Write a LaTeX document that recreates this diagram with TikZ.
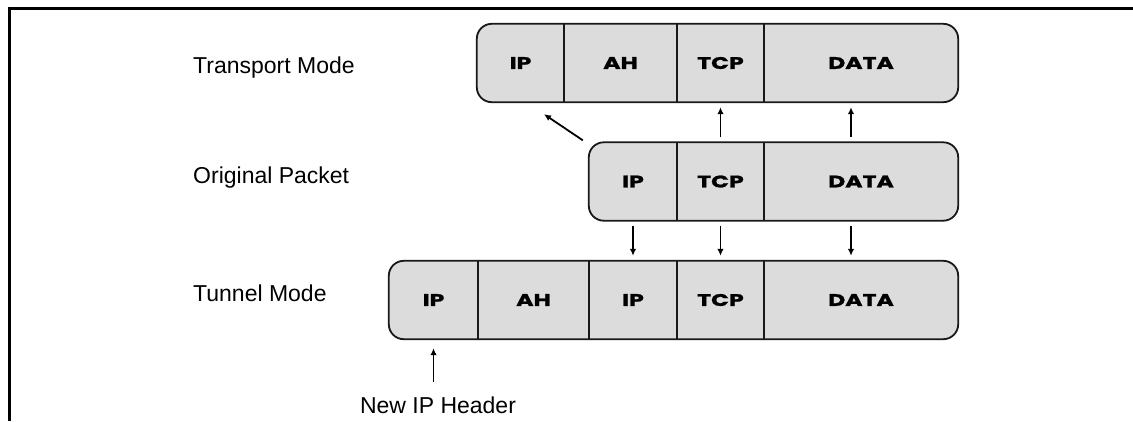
\documentclass[tikz,border=0pt]{standalone}
\usepackage{fontspec}
\setmainfont{Liberation Sans}
\newfontfamily\cellfont{Poppins}[FakeStretch=1.4,FakeBold=1.3]
\usetikzlibrary{arrows.meta,backgrounds}
\definecolor{cellgray}{RGB}{220,220,220}
\tikzset{
 cell/.style={inner sep=0pt, minimum height=78pt, font=\cellfont\bfseries\fontsize{16.8}{19}\selectfont, text=black},
 pkt/.style={draw=black!90, line width=1.8pt, fill=cellgray, rounded corners=15pt},
 divider/.style={draw=black!90, line width=1.8pt},
 arr/.style={line width=1.8pt, -{Latex[length=7pt,width=6.5pt]}, shorten <=5pt, shorten >=5pt},
 lbl/.style={font=\fontsize{23}{27}\selectfont, inner sep=0pt, anchor=base west},
 frame/.style={line width=3pt, draw=black},
}
\begin{document}
\begin{tikzpicture}[x=1pt,y=-1pt]
\useasboundingbox (0,0) rectangle (1133,421);
% frame
\coordinate (fa) at (9.3,421);
\coordinate (fb) at (9.3,8.5);
\coordinate (fc) at (1133,8.5);
\draw[frame] (fa) -- (fb) -- (fc);
% labels
\node[lbl] (lt) at (193,73) {Transport Mode};
\node[lbl] (lo) at (193,183) {Original Packet};
\node[lbl] (ln) at (193,301) {Tunnel Mode};
% transport mode packet
\node[cell, minimum width=87pt]  (tIP)   at (520.5,63) {IP};
\node[cell, minimum width=113pt] (tAH)   at (620.5,63) {AH};
\node[cell, minimum width=87pt]  (tTCP)  at (720.5,63) {TCP};
\node[cell, minimum width=194pt] (tDATA) at (861,63) {DATA};
% original packet
\node[cell, minimum width=88pt]  (oIP)   at (633,181.5) {IP};
\node[cell, minimum width=87pt]  (oTCP)  at (720.5,181.5) {TCP};
\node[cell, minimum width=194pt] (oDATA) at (861,181.5) {DATA};
% tunnel mode packet
\node[cell, minimum width=89pt]  (nIP)   at (433.5,300) {IP};
\node[cell, minimum width=111pt] (nAH)   at (533.5,300) {AH};
\node[cell, minimum width=88pt]  (nIP2)  at (633,300) {IP};
\node[cell, minimum width=87pt]  (nTCP)  at (720.5,300) {TCP};
\node[cell, minimum width=194pt] (nDATA) at (861,300) {DATA};
\begin{scope}[on background layer]
\path[pkt] (tIP.north west) rectangle (tDATA.south east);
\path[pkt] (oIP.north west) rectangle (oDATA.south east);
\path[pkt] (nIP.north west) rectangle (nDATA.south east);
\end{scope}
% dividers
\draw[divider] (tIP.north east) -- (tIP.south east);
\draw[divider] (tAH.north east) -- (tAH.south east);
\draw[divider] (tTCP.north east) -- (tTCP.south east);
\draw[divider] (oIP.north east) -- (oIP.south east);
\draw[divider] (oTCP.north east) -- (oTCP.south east);
\draw[divider] (nIP.north east) -- (nIP.south east);
\draw[divider] (nAH.north east) -- (nAH.south east);
\draw[divider] (nIP2.north east) -- (nIP2.south east);
\draw[divider] (nTCP.north east) -- (nTCP.south east);
% arrows
\draw[arr, shorten <=0pt, shorten >=0pt] ([shift={(-6,-2)}]oIP.north west) -- ([shift={(23.5,12)}]tIP.south);
\draw[arr] (oTCP.north) -- (tTCP.south);
\draw[arr] ([xshift=-10pt]oDATA.north) -- ([xshift=-10pt]tDATA.south);
\draw[arr] (oIP.south) -- (nIP2.north);
\draw[arr] (oTCP.south) -- (nTCP.north);
\draw[arr] ([xshift=-10pt]oDATA.south) -- ([xshift=-10pt]nDATA.north);
% new IP header
\node[font=\fontsize{23}{27}\selectfont, anchor=base, inner sep=0pt] (nih) at (438,413) {New IP Header};
\draw[arr, shorten <=14pt, shorten >=9pt] (nih.north -| nIP.south) -- (nIP.south);
\end{tikzpicture}
\end{document}
